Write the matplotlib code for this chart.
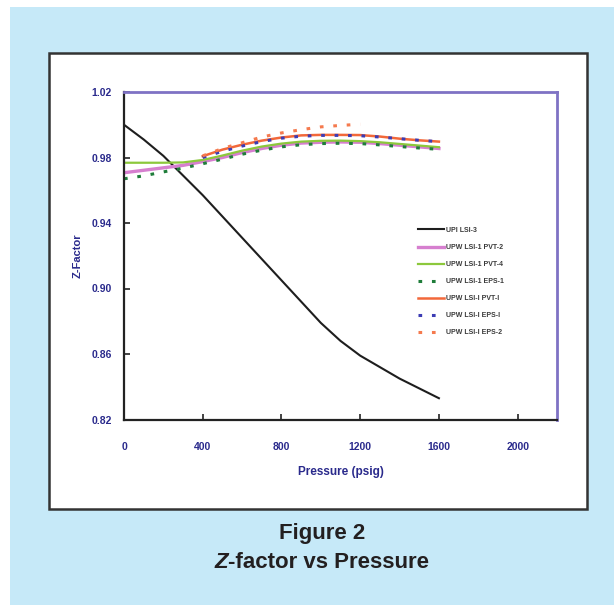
import matplotlib
matplotlib.use("Agg")
import matplotlib.pyplot as plt
from matplotlib.patches import Rectangle

# pressure grid (psig)
p_all = [0, 100, 200, 300, 400, 500, 600, 700, 800, 900, 1000, 1100, 1200, 1300, 1400, 1500, 1600]
p_hi = [400, 500, 600, 700, 800, 900, 1000, 1100, 1200, 1300, 1400, 1500, 1600]
p_eps2 = [400, 500, 600, 700, 800, 900, 1000, 1100, 1200]

z_upi = [1.000, 0.991, 0.981, 0.969, 0.957, 0.944, 0.931, 0.918, 0.905, 0.892, 0.879, 0.868, 0.859, 0.852, 0.845, 0.839, 0.833]
z_pvt2 = [0.9707, 0.9722, 0.9737, 0.9752, 0.9775, 0.9800, 0.9830, 0.9855, 0.9875, 0.9888, 0.9893, 0.9895, 0.9893, 0.9885, 0.9875, 0.9865, 0.9855]
z_pvt4 = [0.9768, 0.9768, 0.9768, 0.9770, 0.9785, 0.9812, 0.9842, 0.9867, 0.9885, 0.9897, 0.9902, 0.9903, 0.9900, 0.9893, 0.9883, 0.9873, 0.9863]
z_eps1 = [0.9670, 0.9688, 0.9712, 0.9735, 0.9762, 0.9790, 0.9820, 0.9845, 0.9865, 0.9878, 0.9885, 0.9887, 0.9885, 0.9877, 0.9867, 0.9858, 0.9850]
z_lsi_pvt = [0.9808, 0.9848, 0.9878, 0.9903, 0.9922, 0.9935, 0.9938, 0.9938, 0.9937, 0.9928, 0.9915, 0.9905, 0.9897]
z_lsi_eps1 = [0.9800, 0.9838, 0.9870, 0.9897, 0.9918, 0.9930, 0.9935, 0.9935, 0.9933, 0.9925, 0.9915, 0.9905, 0.9897]
z_lsi_eps2 = [0.9810, 0.9855, 0.9890, 0.9925, 0.9950, 0.9970, 0.9987, 0.9996, 1.0003]

labels = ["UPI LSI-3", "UPW LSI-1 PVT-2", "UPW LSI-1 PVT-4", "UPW LSI-1 EPS-1",
          "UPW LSI-I PVT-I", "UPW LSI-I EPS-I", "UPW LSI-I EPS-2"]

xticks = [0, 400, 800, 1200, 1600, 2000]
yticks = [0.82, 0.86, 0.90, 0.94, 0.98, 1.02]

W, H = 614, 605
navy = "#2a2a8c"
tick_font = ["Liberation Sans Narrow", "Liberation Sans", "DejaVu Sans"]

fig = plt.figure(figsize=(W / 100, H / 100), dpi=100)
fig.patch.set_facecolor("white")

def box(x0, y0, x1, y1, **kw):
    # pixel box, y measured from top
    r = Rectangle((x0 / W, 1 - y1 / H), (x1 - x0) / W, (y1 - y0) / H,
                  transform=fig.transFigure, **kw)
    fig.add_artist(r)

box(10, 7, W, H, facecolor="#c6e9f8", edgecolor="none", zorder=-3)
box(49, 53, 587, 509, facecolor="white", edgecolor="#333333", linewidth=1.8, zorder=-2)

ax = fig.add_axes([124 / W, 1 - 419.5 / H, (557 - 124) / W, (419.5 - 92) / H])
ax.set_facecolor("white")

ax.plot(p_all, z_upi, color="#1e1e1e", lw=1.5, label=labels[0])
ax.plot(p_all, z_pvt2, color="#d67fcf", lw=2.4, label=labels[1])
ax.plot(p_all, z_pvt4, color="#8cc83c", lw=1.6, label=labels[2])
ax.plot(p_all, z_eps1, color="#1f7d3a", lw=2.2, ls=(0, (1.2, 3.2)), label=labels[3])
ax.plot(p_hi, z_lsi_pvt, color="#f2683a", lw=1.8, label=labels[4])
ax.plot(p_hi, z_lsi_eps1, color="#3c3cb4", lw=2.2, ls=(0, (1.2, 3.2)), label=labels[5])
ax.plot(p_eps2, z_lsi_eps2, color="#f57a4e", lw=2.2, ls=(0, (1.2, 3.2)), label=labels[6])

ax.set_xlim(0, 2200)
ax.set_ylim(0.82, 1.02)
ax.set_xticks(xticks)
ax.set_yticks(yticks)
ax.set_xticklabels([str(t) for t in xticks])
ax.set_yticklabels(["%.2f" % t for t in yticks])
ax.tick_params(direction="in", length=4, width=1.2, color="#222222",
               labelcolor=navy, labelsize=7.5)
ax.tick_params(axis="x", pad=16)
ax.tick_params(axis="y", pad=9)
for lab in ax.get_xticklabels() + ax.get_yticklabels():
    lab.set_fontfamily(tick_font)
    lab.set_fontweight("bold")

for s in ["left", "bottom"]:
    ax.spines[s].set_color("#222222")
    ax.spines[s].set_linewidth(1.6)
for s in ["top", "right"]:
    ax.spines[s].set_color("#7f72c4")
    ax.spines[s].set_linewidth(2.0)

ax.set_ylabel("Z-Factor", color=navy, fontsize=8, fontweight="bold",
              family=tick_font, labelpad=6)
ax.set_xlabel("Pressure (psig)", color=navy, fontsize=8.5, fontweight="bold",
              family=tick_font, labelpad=10)

leg = ax.legend(loc="upper left", bbox_to_anchor=(0.679, 0.588), frameon=False,
                fontsize=5, handlelength=3.8, handletextpad=0.3, labelspacing=1.45,
                borderpad=0, borderaxespad=0)
for t in leg.get_texts():
    t.set_color("#3a3a3a")
    t.set_fontweight("bold")
    t.set_fontfamily(tick_font)

# caption
fig.text(322 / W, 1 - 533 / H, "Figure 2", ha="center", va="center",
         fontsize=16, fontweight="bold", family="Liberation Sans", color="#231f20")
t_z = fig.text(0, 1 - 562 / H, "Z", ha="left", va="center", fontsize=16,
               fontweight="bold", style="italic", family="Liberation Sans", color="#231f20")
t_rest = fig.text(0, 1 - 562 / H, "-factor vs Pressure", ha="left", va="center",
                  fontsize=16, fontweight="bold", family="Liberation Sans", color="#231f20")
fig.canvas.draw()
r = fig.canvas.get_renderer()
wz = t_z.get_window_extent(r).width
wr = t_rest.get_window_extent(r).width
x0 = 322 - (wz + wr) / 2
t_z.set_x(x0 / W)
t_rest.set_x((x0 + wz) / W)

fig.savefig("out.png", dpi=100, facecolor=fig.get_facecolor())
